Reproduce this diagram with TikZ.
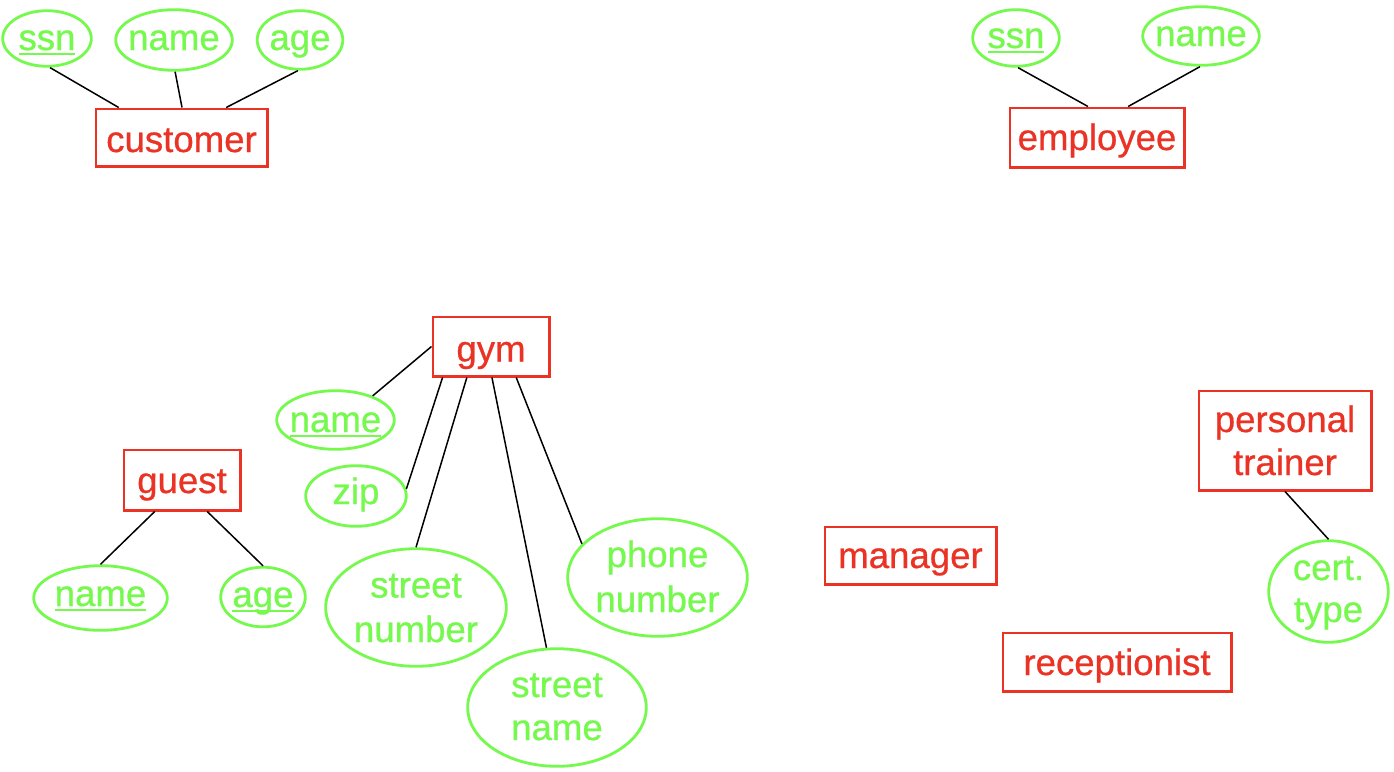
\documentclass[tikz,border=0pt]{standalone}
\usepackage{fontspec}
\setmainfont{Liberation Sans}[FakeBold=0.7]
\usetikzlibrary{shapes.geometric,calc}
\definecolor{erred}{RGB}{234,51,36}
\definecolor{ergreen}{RGB}{117,249,77}
\newsavebox\ulbox
\newcommand\keyul[1]{\sbox\ulbox{#1}\rlap{\rule[-2.6pt]{\wd\ulbox}{1.3pt}}\usebox\ulbox}
\newcommand\oneline[2]{\makebox[0pt]{\raisebox{#1}[0pt][0pt]{#2}}}
\newcommand\twoline[4]{\makebox[0pt]{\raisebox{#3}[0pt][0pt]{#1}}\makebox[0pt]{\raisebox{#4}[0pt][0pt]{#2}}}
\begin{document}
\begin{tikzpicture}[x=0.5pt,y=-0.5pt,
  font=\fontsize{18.3}{22}\selectfont,
  entity/.style={rectangle,draw=erred,line width=1.2pt,text=erred,inner sep=0pt},
  attr/.style={ellipse,draw=ergreen,line width=1.4pt,text=ergreen,inner sep=0pt},
  link/.style={draw=black,line width=0.75pt}]
\fill[white] (0,0) rectangle (1394,772);
\useasboundingbox (0,0) rectangle (1394,772);

% customer
\node[entity,minimum width=85.8pt,minimum height=28.8pt] (cust) at (181.5,137.5) {\oneline{-7.25pt}{customer}};
\node[attr,minimum width=44.3pt,minimum height=27.8pt] (cssn) at (47,38.5) {\oneline{-5.75pt}{\keyul{ssn}}};
\node[attr,minimum width=58.3pt,minimum height=30.3pt] (cname) at (174,40) {\oneline{-5pt}{name}};
\node[attr,minimum width=42.8pt,minimum height=29.3pt] (cage) at (300,40) {\oneline{-5pt}{age}};

% employee
\node[entity,minimum width=87.3pt,minimum height=29.8pt] (emp) at (1097,137.5) {\oneline{-6.25pt}{employee}};
\node[attr,minimum width=43.3pt,minimum height=28.3pt] (essn) at (1016,38) {\oneline{-5pt}{\keyul{ssn}}};
\node[attr,minimum width=58.3pt,minimum height=29.3pt] (ename) at (1201,36) {\oneline{-5pt}{name}};

% gym
\node[entity,minimum width=58.3pt,minimum height=29.8pt] (gym) at (491,346.5) {\oneline{-7.5pt}{gym}};
\node[attr,minimum width=58.8pt,minimum height=29.3pt] (gname) at (335.5,420) {\oneline{-6pt}{\keyul{name}}};
\node[attr,minimum width=50.3pt,minimum height=30.3pt] (zip) at (356,496) {\oneline{-4pt}{zip}};
\node[attr,minimum width=90.3pt,minimum height=58.8pt] (snum) at (416,607.5) {\twoline{street}{number}{5pt}{-17.25pt}};
\node[attr,minimum width=89.3pt,minimum height=58.8pt] (sname) at (557,707.5) {\twoline{street}{name}{5.25pt}{-16.25pt}};
\node[attr,minimum width=89.8pt,minimum height=58.8pt] (phone) at (657.5,577.5) {\twoline{phone}{number}{5.25pt}{-17.25pt}};

% guest
\node[entity,minimum width=58.3pt,minimum height=30.3pt] (guest) at (182,480) {\oneline{-6.5pt}{guest}};
\node[attr,minimum width=66.8pt,minimum height=32.3pt] (gtname) at (100.5,598) {\oneline{-4pt}{\keyul{name}}};
\node[attr,minimum width=42.3pt,minimum height=29.8pt] (gtage) at (263,597) {\oneline{-5pt}{\keyul{age}}};

% others
\node[entity,minimum width=86.3pt,minimum height=49.8pt] (pt) at (1285,440.5) {\twoline{personal}{trainer}{4.25pt}{-17.25pt}};
\node[attr,minimum width=59.8pt,minimum height=50.8pt] (cert) at (1328.5,591.5) {\twoline{cert.}{type}{5.75pt}{-15.25pt}};
\node[entity,minimum width=85.8pt,minimum height=28.8pt] (mgr) at (910.5,555.5) {\oneline{-6.25pt}{manager}};
\node[entity,minimum width=114.3pt,minimum height=29.3pt] (rec) at (1117,662) {\oneline{-6.5pt}{receptionist}};

% connectors
\draw[link] (cssn.-84) -- ($(cust.north west)!0.139!(cust.north east)$);
\draw[link] (cname.-88) -- ($(cust.north west)!0.503!(cust.north east)$);
\draw[link] (cage.-94) -- ($(cust.north west)!0.757!(cust.north east)$);
\draw[link] (essn.-86) -- ($(emp.north west)!0.449!(emp.north east)$);
\draw[link] (ename.-92) -- ($(emp.north west)!0.676!(emp.north east)$);
\draw[link] (gym.west) -- (gname.33);
\draw[link] ($(gym.south west)!0.093!(gym.south east)$) -- (zip.8);
\draw[link] ($(gym.south west)!0.297!(gym.south east)$) -- (snum.north);
\draw[link] ($(gym.south west)!0.508!(gym.south east)$) -- (sname.100.5);
\draw[link] ($(gym.south west)!0.712!(gym.south east)$) -- (phone.156);
\draw[link] ($(guest.south west)!0.271!(guest.south east)$) -- (gtname.north);
\draw[link] ($(guest.south west)!0.712!(guest.south east)$) -- (gtage.north);
\draw[link] (pt.south) -- (cert.north);
\end{tikzpicture}
\end{document}
